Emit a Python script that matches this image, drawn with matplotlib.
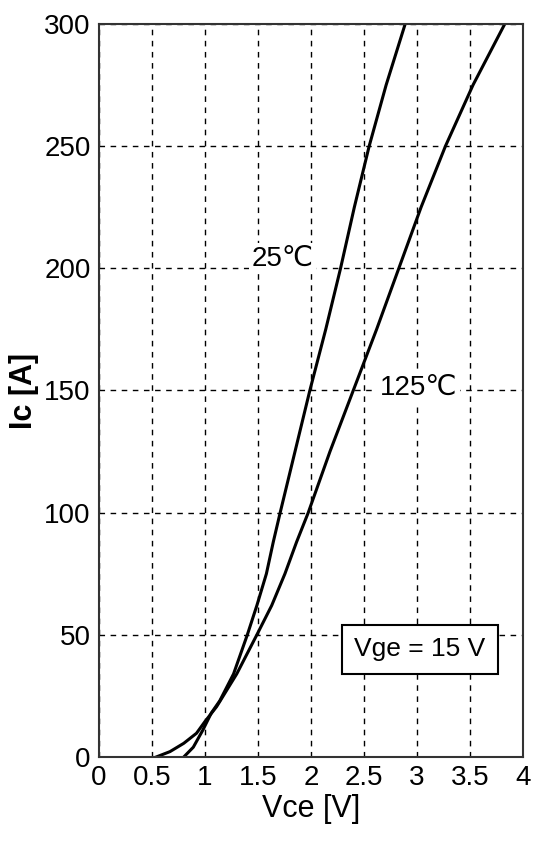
import matplotlib
matplotlib.use('Agg')
from matplotlib import pyplot as plt

# Ic-Vce output curves
vce_25 = [0.80, 0.89, 0.98, 1.06, 1.14, 1.27, 1.40, 1.49, 1.58, 1.645, 1.71,
          1.85, 1.99, 2.14, 2.28, 2.41, 2.55, 2.71, 2.89]
ic_25 = [0, 4, 11, 18, 23, 34, 50, 62, 75, 88, 100,
         125, 150, 175, 200, 225, 250, 275, 300]
vce_125 = [0.54, 0.67, 0.80, 0.92, 1.00, 1.11, 1.14, 1.30, 1.49, 1.63, 1.755,
           1.865, 1.975, 2.18, 2.40, 2.62, 2.83, 3.04, 3.27, 3.53, 3.83]
ic_125 = [0, 2.2, 5.6, 9.7, 14.5, 20.6, 22.7, 34, 50, 62, 75,
          88, 100, 125, 150, 175, 200, 225, 250, 275, 300]

x_ticks = [0, 0.5, 1, 1.5, 2, 2.5, 3, 3.5, 4]
x_tick_labels = ['0', '0.5', '1', '1.5', '2', '2.5', '3', '3.5', '4']
y_ticks = [0, 50, 100, 150, 200, 250, 300]

plt.rcParams['font.family'] = ['Liberation Sans', 'DejaVu Sans']

fig = plt.figure(figsize=(5.34, 8.41), dpi=100)
ax = fig.add_axes([0.1854, 0.0999, 0.7936, 0.8716])

ax.plot(vce_25, ic_25, color='black', linewidth=2.2)
ax.plot(vce_125, ic_125, color='black', linewidth=2.2)

ax.set_xlim(0, 4)
ax.set_ylim(0, 300)
ax.set_xticks(x_ticks)
ax.set_xticklabels(x_tick_labels)
ax.set_yticks(y_ticks)
ax.grid(True, color='black', linestyle=(0, (4, 4)), linewidth=1)
ax.tick_params(direction='in', length=0, labelsize=20, pad=6)
for s in ax.spines.values():
    s.set_linewidth(1.5)
    s.set_color('#333333')

ax.set_xlabel('Vce [V]', fontsize=22, labelpad=2)
ax.set_ylabel('Ic [A]', fontsize=22, fontweight='bold', labelpad=4)

ax.text(1.73, 204, '25\u2103', fontsize=20, ha='center', va='center',
        bbox=dict(facecolor='white', edgecolor='none', pad=2))
ax.text(3.02, 151, '125\u2103', fontsize=20, ha='center', va='center',
        bbox=dict(facecolor='white', edgecolor='none', pad=2))
ax.text(3.03, 44, 'Vge = 15 V', fontsize=19, ha='center', va='center',
        bbox=dict(facecolor='white', edgecolor='black', linewidth=1.5, pad=9))

plt.savefig('out.png', dpi=100)
